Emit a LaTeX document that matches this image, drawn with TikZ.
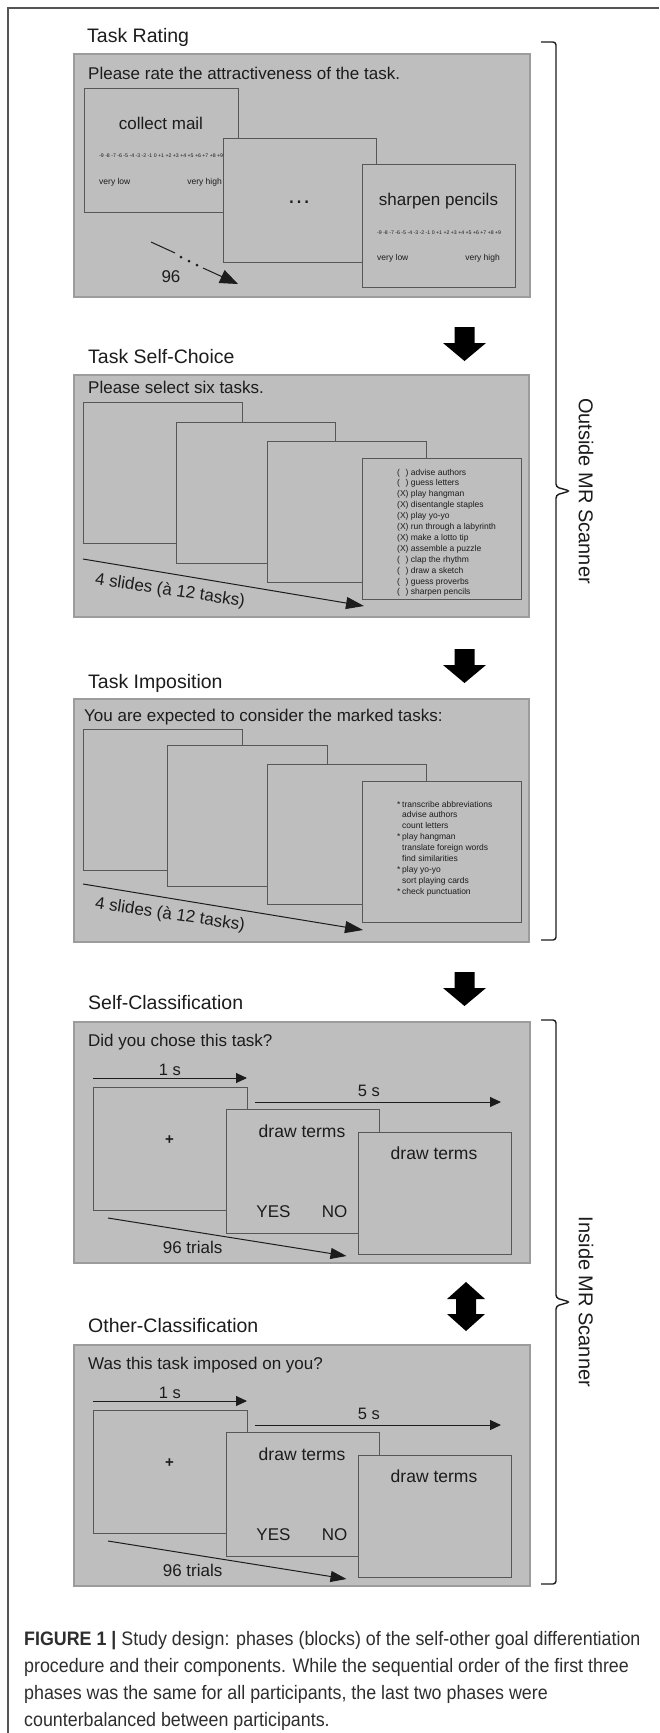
\documentclass[tikz,border=0pt]{standalone}
\usepackage{fontspec}
\setmainfont{Liberation Sans}
\newfontfamily\capfont[FakeStretch=0.915]{Liberation Sans}
\usetikzlibrary{arrows.meta}
\definecolor{pfill}{HTML}{BEBEBE}
\definecolor{pedge}{HTML}{9C9C9C}
\definecolor{cedge}{HTML}{575757}
\definecolor{ink}{HTML}{1C1C1C}
\definecolor{fline}{HTML}{555555}
\definecolor{capink}{HTML}{2E2E2E}
\newcommand{\fsz}[1]{\fontsize{#1}{#1}\selectfont}
\newcommand{\classpanel}[4]{%
 \begin{scope}[shift={(0,#1)}]
  \path[pnl] (74,1022) rectangle (530,1263);
  \node[ttl] (title#4) at (88,1009) {#2};
  \node[bdy] (q#4) at (88,1046) {#3};
  \node[ctr,font=\fsz{16.5}] (onesl#4) at (170,1075) {1 s};
  \coordinate (onesA#4) at (93,1078);
  \coordinate (onesB#4) at (247,1078);
  \draw[thinarr={11pt}{10pt}] (onesA#4) -- (onesB#4);
  \path[crd] (93,1087) rectangle (247,1210);
  \node[inner sep=0pt,text=ink,font=\fsz{15}\bfseries] (fix#4) at (169.5,1140) {+};
  \node[ctr,font=\fsz{16.5}] (fivesl#4) at (369,1096) {5 s};
  \coordinate (fivesA#4) at (255,1102);
  \coordinate (fivesB#4) at (501,1102);
  \draw[thinarr={11pt}{10pt}] (fivesA#4) -- (fivesB#4);
  \path[crd] (226,1109) rectangle (379,1233);
  \node[ctr,font=\fsz{17.5}] (dtb#4) at (302,1137) {draw terms};
  \node[ctr] (yes#4) at (273.5,1217) {YES};
  \node[ctr] (no#4) at (334.5,1217) {NO};
  \path[crd] (358,1132) rectangle (511,1254);
  \node[ctr,font=\fsz{17.5}] (dtc#4) at (434,1159) {draw terms};
  \coordinate (trA#4) at (108,1218);
  \coordinate (trB#4) at (346.5,1256);
  \draw[thinarr={16pt}{11pt}] (trA#4) -- (trB#4);
  \node[ctr] (trl#4) at (192.6,1253) {96 trials};
 \end{scope}}

\begin{document}
\begin{tikzpicture}[x=1pt,y=-1pt,
 pnl/.style={draw=pedge,fill=pfill,line width=1.3pt},
 crd/.style={draw=cedge,fill=pfill,line width=1pt},
 ttl/.style={anchor=base west,inner sep=0pt,text=ink,font=\fsz{19.5}},
 bdy/.style={anchor=base west,inner sep=0pt,text=ink,font=\fsz{17}},
 ctr/.style={anchor=base,inner sep=0pt,text=ink,font=\fsz{17}},
 lst/.style={anchor=base west,inner sep=0pt,text=ink,font=\fsz{8.5}},
 scl/.style={anchor=base west,inner sep=0pt,text=ink,font=\fsz{5.2}},
 vlh/.style={inner sep=0pt,text=ink,font=\fsz{8.5}},
 thinarr/.style n args={2}{draw=ink,line width=1pt,-{Triangle[length=#1,width=#2]}},
 brc/.style={draw=ink,line width=1.4pt,rounded corners=3pt},
 sidelbl/.style={inner sep=0pt,text=ink,font=\fsz{20},rotate=-90},
 capl/.style={anchor=base west,inner sep=0pt,text=capink,font=\capfont\fsz{19.5}},
 downarr/.pic={\fill[black] (-10,0) -- (10,0) -- (10,16) -- (21.5,16) -- (0,34) -- (-21.5,16) -- (-10,16) -- cycle;},
 dblarr/.pic={\fill[black] (0,0) -- (19,17) -- (10,17) -- (10,32) -- (19,32) -- (0,49) -- (-19,32) -- (-10,32) -- (-10,17) -- (-19,17) -- cycle;}
]
\useasboundingbox (0,0) rectangle (659,1733);
\fill[white] (0,0) rectangle (659,1733);
\draw[fline,line width=1.2pt] (8,1733) -- (8,8) -- (659,8);

% ---------- Panel 1: Task Rating
\node[ttl] (t1) at (87,42) {Task Rating};
\path[pnl] (74,54) rectangle (530,297);
\node[bdy] (q1) at (88,79) {Please rate the attractiveness of the task.};
\path[crd] (84,88) rectangle (238,212);
\node[ctr] (cm) at (161,129) {collect mail};
\node[scl] (sc1) at (99,157) {-9 -8 -7 -6 -5 -4 -3 -2 -1 0 +1 +2 +3 +4 +5 +6 +7 +8 +9};
\node[vlh,anchor=base west] (vl1) at (99,184) {very low};
\node[vlh,anchor=base east] (vh1) at (222,184) {very high};
\path[crd] (223,138) rectangle (376,262);
\node[ctr,font=\fsz{24}] (dots) at (299,203) {…};
\path[crd] (362,164) rectangle (515,287);
\node[ctr] (sp) at (438.5,205) {sharpen pencils};
\node[scl] (sc3) at (377,234) {-9 -8 -7 -6 -5 -4 -3 -2 -1 0 +1 +2 +3 +4 +5 +6 +7 +8 +9};
\node[vlh,anchor=base west] (vl3) at (377,260) {very low};
\node[vlh,anchor=base east] (vh3) at (500,260) {very high};
\coordinate (r1a) at (151,242);
\coordinate (r1b) at (175,253);
\coordinate (r1c) at (203,268);
\coordinate (r1d) at (238,284);
\draw[ink,line width=1pt] (r1a) -- (r1b);
\fill[ink] (181,257) circle (1.5) (189,261) circle (1.5) (197,265) circle (1.5);
\draw[thinarr={18pt}{14pt}] (r1c) -- (r1d);
\node[ctr] (n96) at (171,282) {96};

\pic at (464.5,327) {downarr};

% ---------- Panel 2: Task Self-Choice
\node[ttl] (t2) at (88,363) {Task Self-Choice};
\path[pnl] (74,375) rectangle (529,617);
\node[bdy] (q2) at (88,393) {Please select six tasks.};
\path[crd] (83,402) rectangle (242,543);
\path[crd] (176,422) rectangle (335,563);
\path[crd] (267,441) rectangle (426,582);
\path[crd] (362,458) rectangle (521,599);
\foreach \t [count=\i] in {(\hphantom{X}) advise authors,(\hphantom{X}) guess letters,(X) play hangman,(X) disentangle staples,(X) play yo-yo,(X) run through a labyrinth,(X) make a lotto tip,(X) assemble a puzzle,(\hphantom{X}) clap the rhythm,(\hphantom{X}) draw a sketch,(\hphantom{X}) guess proverbs,(\hphantom{X}) sharpen pencils}
  \node[lst] (sl\i) at (397,{475+10.9*(\i-1)}) {\t};
\coordinate (s2a) at (83,559);
\coordinate (s2b) at (364,606);
\draw[thinarr={18pt}{12pt}] (s2a) -- (s2b);
\node[inner sep=0pt,text=ink,font=\fsz{17},rotate=-8.5] (sl2) at (170,591) {4 slides (à 12 tasks)};

\pic at (464.5,649) {downarr};

% ---------- Panel 3: Task Imposition
\node[ttl] (t3) at (88,688) {Task Imposition};
\path[pnl] (74,699) rectangle (529,942);
\node[bdy] (q3) at (84,721) {You are expected to consider the marked tasks:};
\path[crd] (83,729) rectangle (242,870);
\path[crd] (167,745) rectangle (327,886);
\path[crd] (267,764) rectangle (426,904);
\path[crd] (362,781) rectangle (521,922);
\foreach \m/\t [count=\i] in {*/transcribe abbreviations,/advise authors,/count letters,*/play hangman,/translate foreign words,/find similarities,*/play yo-yo,/sort playing cards,*/check punctuation}
  {\node[lst] (im\i) at (397,{807+10.9*(\i-1)}) {\m};
   \node[lst] (it\i) at (402,{807+10.9*(\i-1)}) {\t};}
\coordinate (s3a) at (83,884);
\coordinate (s3b) at (363,930);
\draw[thinarr={18pt}{12pt}] (s3a) -- (s3b);
\node[inner sep=0pt,text=ink,font=\fsz{17},rotate=-8.5] (sl3) at (170,915) {4 slides (à 12 tasks)};

\pic at (464.5,972) {downarr};

% ---------- Panels 4 and 5
\classpanel{0}{Self-Classification}{Did you chose this task?}{A}
\pic at (466,1282) {dblarr};
\classpanel{323}{Other-Classification}{Was this task imposed on you?}{B}

% ---------- Braces
\draw[brc] (541,42) -- (556,42) -- (556,487) -- (570,491) -- (556,495) -- (556,940) -- (541,940);
\node[sidelbl] (out) at (586,491) {Outside MR Scanner};
\draw[brc] (541,1020) -- (556,1020) -- (556,1298) -- (570,1302) -- (556,1306) -- (556,1584) -- (541,1584);
\node[sidelbl] (ins) at (586,1302) {Inside MR Scanner};

% ---------- Caption
\node[capl] (cap1) at (24,1645) {\textbf{FIGURE 1 |} Study design: phases (blocks) of the self-other goal differentiation};
\node[capl] (cap2) at (24,1672) {procedure and their components. While the sequential order of the first three};
\node[capl] (cap3) at (24,1699) {phases was the same for all participants, the last two phases were};
\node[capl] (cap4) at (24,1726) {counterbalanced between participants.};
\end{tikzpicture}
\end{document}
